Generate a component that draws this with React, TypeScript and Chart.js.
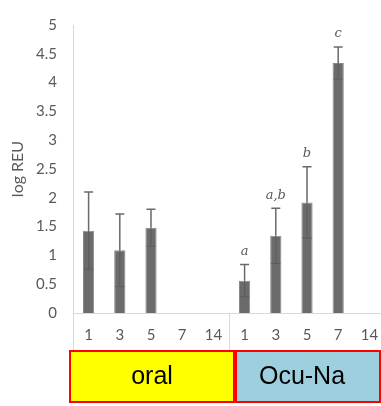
import React, { useEffect, useRef } from "react";
import { Chart, registerables } from "chart.js";

Chart.register(...registerables);

const categories = ["1", "3", "5", "7", "14", "1", "3", "5", "7", "14"];
const means = [1.43, 1.09, 1.48, 0, 0, 0.56, 1.34, 1.92, 4.34, 0];
const errors = [0.67, 0.63, 0.32, 0, 0, 0.28, 0.48, 0.62, 0.28, 0];
const letters = ["", "", "", "", "", "a", "a,b", "b", "c", ""];
const groups = ["oral", "Ocu-Na"];
const groupSize = 5;

const extrasPlugin = {
  id: "extras",
  afterDatasetsDraw(chart: any) {
    const { ctx, chartArea } = chart;
    const x = chart.scales.x;
    const y = chart.scales.y;
    const meta = chart.getDatasetMeta(0);
    ctx.save();
    // error bars
    means.forEach((m, i) => {
      const e = errors[i];
      if (!e) return;
      const bar: any = meta.data[i];
      const cx = bar.x;
      const bw = bar.width;
      const yTop = y.getPixelForValue(m + e);
      const yVal = y.getPixelForValue(m);
      const yLow = y.getPixelForValue(m - e);
      ctx.strokeStyle = "#6a6a6a";
      ctx.lineWidth = 1.5;
      ctx.beginPath();
      ctx.moveTo(cx, yVal);
      ctx.lineTo(cx, yTop);
      ctx.moveTo(cx - 4.5, yTop);
      ctx.lineTo(cx + 4.5, yTop);
      ctx.stroke();
      ctx.strokeStyle = "#5c5c5c";
      ctx.lineWidth = 1;
      ctx.beginPath();
      ctx.moveTo(cx, yVal);
      ctx.lineTo(cx, yLow);
      ctx.moveTo(cx - bw / 2 + 1, yLow);
      ctx.lineTo(cx + bw / 2 - 1, yLow);
      ctx.stroke();
      if (letters[i]) {
        ctx.fillStyle = "#595959";
        ctx.font = "italic 13px 'DejaVu Serif'";
        ctx.textAlign = "center";
        ctx.textBaseline = "middle";
        ctx.fillText(letters[i], cx, yTop - 13);
      }
    });
    // axis extension lines
    const sepX =
      (x.getPixelForValue(groupSize - 1) + x.getPixelForValue(groupSize)) / 2;
    ctx.strokeStyle = "#d9d9d9";
    ctx.lineWidth = 1;
    ctx.beginPath();
    ctx.moveTo(chartArea.left + 0.5, chartArea.bottom);
    ctx.lineTo(chartArea.left + 0.5, chartArea.bottom + 37);
    ctx.moveTo(sepX + 0.5, chartArea.bottom);
    ctx.lineTo(sepX + 0.5, chartArea.bottom + 37);
    ctx.stroke();
    // group boxes
    const boxTop = chartArea.bottom + 38;
    const boxH = 51;
    const boxes = [
      { x0: chartArea.left - 3, x1: sepX + 5, fill: "#ffff00", tx: (chartArea.left - 3 + sepX + 5) / 2 },
      { x0: sepX + 7, x1: 380, fill: "#9ecfde", tx: 302 },
    ];
    boxes.forEach((b, gi) => {
      ctx.fillStyle = b.fill;
      ctx.fillRect(b.x0, boxTop, b.x1 - b.x0, boxH);
      ctx.strokeStyle = "#ff0000";
      ctx.lineWidth = 2;
      ctx.strokeRect(b.x0, boxTop, b.x1 - b.x0, boxH);
      ctx.fillStyle = "#000000";
      ctx.font = "25px 'Liberation Sans', Arial, sans-serif";
      ctx.textAlign = "center";
      ctx.textBaseline = "middle";
      ctx.fillText(groups[gi], b.tx, boxTop + boxH / 2 + 1);
    });
    ctx.restore();
  },
};

export default function App() {
  const ref = useRef<HTMLCanvasElement>(null);
  useEffect(() => {
    if (!ref.current) return;
    const chart = new Chart(ref.current, {
      type: "bar",
      data: {
        labels: categories,
        datasets: [
          {
            data: means,
            backgroundColor: "#6b6b6b",
            borderColor: "#8a8a8a",
            borderWidth: 1,
            barPercentage: 0.36,
            categoryPercentage: 1,
          },
        ],
      },
      options: {
        responsive: false,
        animation: false,
        devicePixelRatio: 1,
        layout: { padding: { top: 13, right: 7, left: 0, bottom: 0 } },
        plugins: {
          legend: { display: false },
          tooltip: { enabled: false },
        },
        scales: {
          x: {
            grid: { display: false, drawTicks: false },
            border: { color: "#d9d9d9", width: 1 },
            ticks: {
              color: "#595959",
              font: { family: "Lato", size: 15 },
              padding: 13,
              maxRotation: 0,
              autoSkip: false,
            },
            afterFit: (s: any) => {
              s.height = 93;
            },
          },
          y: {
            min: 0,
            max: 5,
            grid: { display: false, drawTicks: false },
            border: { color: "#d9d9d9", width: 1 },
            ticks: {
              stepSize: 0.5,
              color: "#595959",
              font: { family: "Lato", size: 15 },
              padding: 16,
              callback: (v: any) => String(Number(v)),
            },
            title: {
              display: true,
              text: "log REU",
              color: "#595959",
              font: { family: "Lato", size: 16 },
              padding: { top: 8, bottom: 0 },
            },
            afterFit: (s: any) => {
              s.width = 73;
            },
          },
        },
      },
      plugins: [extrasPlugin],
    });
    return () => chart.destroy();
  }, []);
  return (
    <div
      style={{
        position: "absolute",
        left: 0,
        top: 0,
        width: 381,
        height: 406,
        overflow: "hidden",
        background: "#ffffff",
      }}
    >
      <canvas ref={ref} width={392} height={406} style={{ width: 392, height: 406, display: "block" }} />
    </div>
  );
}
